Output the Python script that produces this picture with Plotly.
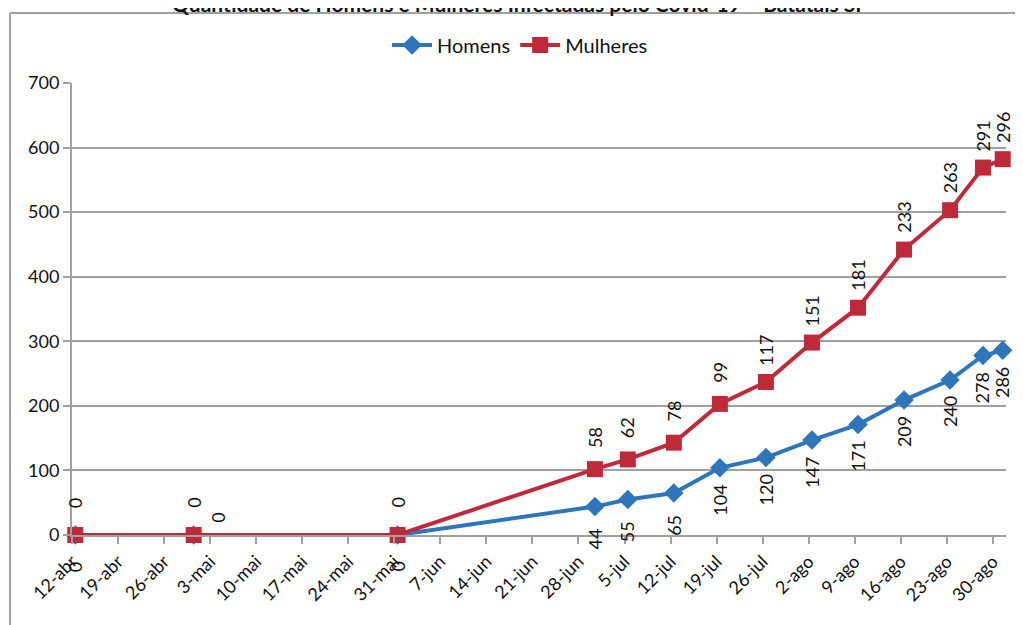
import plotly.graph_objects as go
import pandas as pd
import numpy as np

# ---- data ----
datas = ["2020-04-12", "2020-04-30", "2020-05-31", "2020-06-30", "2020-07-05",
         "2020-07-12", "2020-07-19", "2020-07-26", "2020-08-02", "2020-08-09",
         "2020-08-16", "2020-08-23", "2020-08-28", "2020-08-31"]
homens = [0, 0, 0, 44, 55, 65, 104, 120, 147, 171, 209, 240, 278, 286]
mulheres = [0, 0, 0, 58, 62, 78, 99, 117, 151, 181, 233, 263, 291, 296]

tick_datas = ["2020-04-12", "2020-04-19", "2020-04-26", "2020-05-03", "2020-05-10",
              "2020-05-17", "2020-05-24", "2020-05-31", "2020-06-07", "2020-06-14",
              "2020-06-21", "2020-06-28", "2020-07-05", "2020-07-12", "2020-07-19",
              "2020-07-26", "2020-08-02", "2020-08-09", "2020-08-16", "2020-08-23",
              "2020-08-30"]
tick_labels = ["12-abr", "19-abr", "26-abr", "3-mai", "10-mai", "17-mai", "24-mai",
               "31-mai", "7-jun", "14-jun", "21-jun", "28-jun", "5-jul", "12-jul",
               "19-jul", "26-jul", "2-ago", "9-ago", "16-ago", "23-ago", "30-ago"]

titulo = "Quantidade de Homens e Mulheres Infectadas pelo Covid-19 – Batatais SP"

# ---- styling ----
FONT = "Lato"
AZUL = "#2F75BA"
VERMELHO = "#BF2A3A"
CINZA = "#A0A0A0"

# date-axis points sit in the middle of their day (Excel "between tick marks")
x = pd.to_datetime(datas) + pd.Timedelta(hours=12)
h = np.array(homens)
m_stack = h + np.array(mulheres)   # stacked line chart

fig = go.Figure()
fig.add_trace(go.Scatter(
    x=x, y=h, name="Homens", mode="lines+markers", cliponaxis=False,
    line=dict(color=AZUL, width=4),
    marker=dict(symbol="diamond", size=15, color=AZUL),
))
fig.add_trace(go.Scatter(
    x=x, y=m_stack, name="Mulheres", mode="lines+markers", cliponaxis=False,
    line=dict(color=VERMELHO, width=4),
    marker=dict(symbol="square", size=16, color=VERMELHO),
))

# label offsets (pixels) for Homens labels; one label was moved by hand in the original
h_dx = [0] * len(homens)
h_dy = [-32] * len(homens)
h_dx[1] = 24
h_dy[1] = 17

annotations = []
for i in range(len(datas)):
    annotations.append(dict(
        x=x[i], y=m_stack[i], xref="x", yref="y", text=str(mulheres[i]),
        showarrow=False, textangle=-90, xanchor="center", yanchor="middle",
        yshift=32, font=dict(family=FONT, size=18, color="#111111")))
    annotations.append(dict(
        x=x[i], y=h[i], xref="x", yref="y", text=str(homens[i]),
        showarrow=False, textangle=-90, xanchor="center", yanchor="middle",
        xshift=h_dx[i], yshift=h_dy[i],
        font=dict(family=FONT, size=18, color="#111111")))

annotations.append(dict(
    x=0.4797, y=1.176, xref="paper", yref="paper", text="<b>" + titulo + "</b>",
    showarrow=False, xanchor="center", yanchor="middle",
    font=dict(family=FONT, size=21, color="#111111")))

fig.update_layout(
    width=1015, height=617,
    margin=dict(l=64, r=17, t=75, b=90),
    paper_bgcolor="white", plot_bgcolor="white",
    font=dict(family=FONT, size=17, color="#111111"),
    showlegend=True,
    legend=dict(orientation="h", x=0.4797, xanchor="center", y=1.084, yanchor="middle",
                font=dict(family=FONT, size=20), itemwidth=40, bgcolor="rgba(0,0,0,0)"),
    annotations=annotations,
    shapes=[
        dict(type="line", xref="paper", yref="paper", x0=-0.0664, x1=-0.0664,
             y0=-0.3, y1=1.1549, line=dict(color=CINZA, width=2)),
        dict(type="line", xref="paper", yref="paper", x0=-0.0664, x1=1.05,
             y0=1.1549, y1=1.1549, line=dict(color=CINZA, width=2)),
    ],
)

fig.update_xaxes(
    type="date", range=["2020-04-12", "2020-09-01"],
    tickmode="array", tickvals=tick_datas, ticktext=tick_labels,
    tickangle=-45, ticks="outside", ticklen=7, tickcolor=CINZA, tickwidth=1.5,
    showgrid=False, showline=True, linecolor=CINZA, linewidth=2,
    tickfont=dict(family=FONT, size=18, color="#111111"), zeroline=False,
)
fig.update_yaxes(
    range=[0, 700], dtick=100, tick0=0,
    ticks="outside", ticklen=7, tickcolor=CINZA, tickwidth=1.5,
    showgrid=True, gridcolor=CINZA, gridwidth=1.5,
    showline=True, linecolor=CINZA, linewidth=2, zeroline=False,
    tickfont=dict(family=FONT, size=18, color="#111111"),
)

fig.write_html("out.html")
